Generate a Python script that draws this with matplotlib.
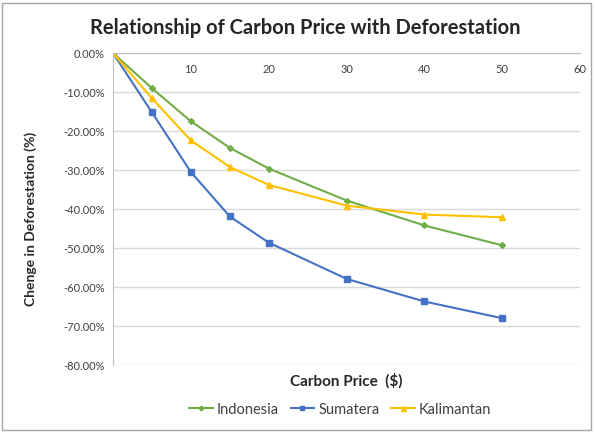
import matplotlib
matplotlib.use("Agg")
import matplotlib.pyplot as plt
from matplotlib.ticker import FuncFormatter

plt.rcParams['font.family'] = ['Lato', 'DejaVu Sans']

carbon_price = [0, 5, 10, 15, 20, 30, 40, 50]
indonesia = [0, -9.0, -17.5, -24.3, -29.6, -37.8, -44.2, -49.3]
sumatera = [0, -15.2, -30.5, -41.9, -48.6, -57.9, -63.7, -68.0]
kalimantan = [0, -11.6, -22.4, -29.2, -33.8, -39.1, -41.4, -42.1]
x_ticks = [10, 20, 30, 40, 50, 60]
y_ticks = [0, -10, -20, -30, -40, -50, -60, -70, -80]

fig = plt.figure(figsize=(5.95, 4.32), dpi=100)
ax = fig.add_axes([0.19, 0.155, 0.785, 0.722])

ax.plot(carbon_price, indonesia, color='#70AD47', marker='D', markersize=3, lw=1.5, label='Indonesia')
ax.plot(carbon_price, sumatera, color='#4472C4', marker='s', markersize=4, lw=1.5, label='Sumatera')
ax.plot(carbon_price, kalimantan, color='#FFC000', marker='^', markersize=4.5, lw=1.5, label='Kalimantan')

ax.set_xlim(0, 60)
ax.set_ylim(-80, 0)
ax.set_yticks(y_ticks)
ax.yaxis.set_major_formatter(FuncFormatter(lambda v, p: f"{v:.2f}%"))
ax.set_xticks(x_ticks)
ax.xaxis.set_ticks_position('top')
ax.tick_params(axis='x', top=True, bottom=False, labeltop=True, labelbottom=False,
               length=0, pad=-16, labelsize=8, colors='#404040')
ax.tick_params(axis='y', length=0, labelsize=8, colors='#404040', pad=6)
ax.grid(axis='y', color='#D9D9D9', lw=1)
ax.set_axisbelow(True)
for s in ['right', 'bottom']:
    ax.spines[s].set_visible(False)
ax.spines['top'].set_color('#BFBFBF')
ax.spines['left'].set_color('#BFBFBF')

ax.set_xlabel('Carbon Price  ($)', fontsize=11, fontweight='bold', color='#262626', labelpad=6)
ax.set_ylabel('Chenge in Deforestation (%)', fontsize=10, fontweight='bold', color='#262626')
ax.yaxis.set_label_coords(-0.163, 0.47)
fig.text(0.513, 0.935, 'Relationship of Carbon Price with Deforestation', ha='center', va='center',
         fontsize=14.5, fontweight='bold', color='#262626')

ax.legend(loc='center', bbox_to_anchor=(0.572, 0.052), bbox_transform=fig.transFigure, ncol=3,
          frameon=False, fontsize=10.5, handlelength=1.6, columnspacing=0.8, handletextpad=0.3,
          labelcolor='#404040', markerscale=0.8)

fig.patches.append(plt.Rectangle((0.004, 0.004), 0.99, 0.99, transform=fig.transFigure,
                                 fill=False, edgecolor='#A6A6A6', lw=1))
fig.savefig('out.png', dpi=100)
